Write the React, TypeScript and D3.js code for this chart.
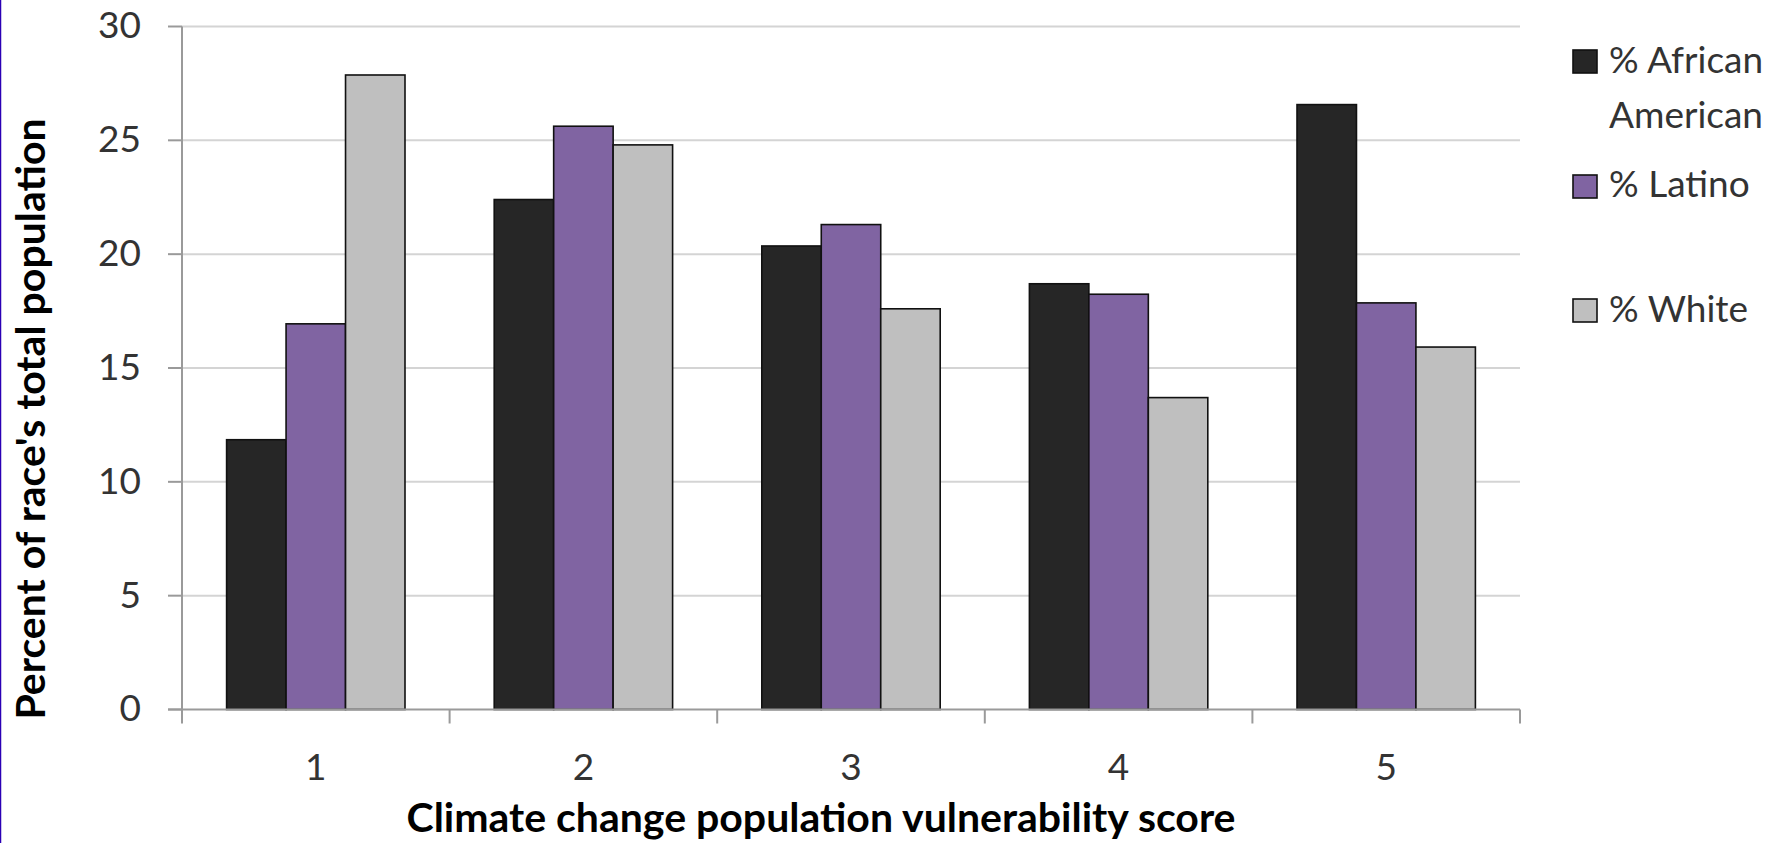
import React from "react";
import * as d3 from "d3";

const categories = ["1", "2", "3", "4", "5"];
const seriesNames = ["% African American", "% Latino", "% White"];
const africanAmerican = [11.85, 22.4, 20.36, 18.7, 26.57];
const latino = [16.94, 25.62, 21.3, 18.24, 17.86];
const white = [27.87, 24.8, 17.6, 13.7, 15.92];
const yTicks = [0, 5, 10, 15, 20, 25, 30];
const seriesColors = ["#262626", "#8064A2", "#BFBFBF"];

const W = 1788;
const H = 843;
const margin = { left: 182, right: 1520, top: 26.5, bottom: 709.5 };

export default function App() {
  const values = [africanAmerican, latino, white];

  const x = d3
    .scaleBand<string>()
    .domain(categories)
    .range([margin.left, margin.right])
    .paddingInner(0)
    .paddingOuter(0);

  // Each category holds three bars with a 150% gap (bar width = band / 4.5)
  const barW = x.bandwidth() / 4.5;
  const inner = d3
    .scaleBand<number>()
    .domain([0, 1, 2])
    .range([barW * 0.75, barW * 3.75]);

  const y = d3.scaleLinear().domain([0, 30]).range([margin.bottom, margin.top]);

  const font = "Lato, 'Open Sans', sans-serif";
  const boundaries = [...categories.map((c) => x(c)!), margin.right];

  return (
    <svg
      width={W}
      height={H}
      viewBox={`0 0 ${W} ${H}`}
      style={{ position: "absolute", left: 0, top: 0, background: "#fff" }}
    >
      <rect x={0} y={0} width={W} height={H} fill="#fff" />
      <line x1={0.5} y1={0} x2={0.5} y2={H} stroke="#2B00B5" strokeWidth={1.5} />

      {/* horizontal gridlines */}
      {yTicks
        .filter((t) => t > 0)
        .map((t) => (
          <line
            key={`g${t}`}
            x1={margin.left}
            x2={margin.right}
            y1={y(t)}
            y2={y(t)}
            stroke="#D4D4D4"
            strokeWidth={2}
          />
        ))}

      {/* bars */}
      {values.map((series, si) =>
        series.map((v, ci) => {
          const bx = x(categories[ci])! + inner(si)!;
          return (
            <rect
              key={`b${si}-${ci}`}
              x={bx}
              y={y(v)}
              width={inner.bandwidth()}
              height={y(0) - y(v)}
              fill={seriesColors[si]}
              stroke="#111"
              strokeWidth={1.6}
            />
          );
        })
      )}

      {/* y axis */}
      <line x1={margin.left} x2={margin.left} y1={margin.top} y2={margin.bottom} stroke="#9A9A9A" strokeWidth={2} />
      {yTicks.map((t) => (
        <g key={`yt${t}`}>
          <line x1={margin.left - 14} x2={margin.left} y1={y(t)} y2={y(t)} stroke="#9A9A9A" strokeWidth={2} />
          <text
            x={141}
            y={y(t) + 2.5}
            textAnchor="end"
            dominantBaseline="middle"
            fontFamily={font}
            fontSize={37}
            fill="#333"
          >
            {t}
          </text>
        </g>
      ))}

      {/* x axis */}
      <line x1={margin.left - 14} x2={margin.right} y1={margin.bottom} y2={margin.bottom} stroke="#9A9A9A" strokeWidth={2} />
      {boundaries.map((bx, i) => (
        <line key={`xt${i}`} x1={bx} x2={bx} y1={margin.bottom} y2={margin.bottom + 14} stroke="#9A9A9A" strokeWidth={2} />
      ))}
      {categories.map((c) => (
        <text
          key={`xl${c}`}
          x={x(c)! + x.bandwidth() / 2}
          y={780}
          textAnchor="middle"
          fontFamily={font}
          fontSize={37}
          fill="#333"
        >
          {c}
        </text>
      ))}

      {/* axis titles */}
      <text x={821} y={832} textAnchor="middle" fontFamily={font} fontWeight={700} fontSize={41} fill="#000">
        Climate change population vulnerability score
      </text>
      <text
        transform={`translate(45, 419) rotate(-90)`}
        textAnchor="middle"
        fontFamily={font}
        fontWeight={700}
        fontSize={41}
        fill="#000"
      >
        Percent of race's total population
      </text>

      {/* legend */}
      {[
        { lines: ["% African", "American"], sq: 50, base: 73 },
        { lines: ["% Latino"], sq: 175, base: 197 },
        { lines: ["% White"], sq: 299, base: 322 },
      ].map((item, i) => (
        <g key={`lg${i}`}>
          <rect x={1573} y={item.sq} width={24} height={23} fill={seriesColors[i]} stroke="#111" strokeWidth={1.6} />
          {item.lines.map((ln, li) => (
            <text
              key={li}
              x={1609}
              y={item.base + li * 55}
              fontFamily={font}
              fontSize={37}
              fill="#333"
            >
              {ln}
            </text>
          ))}
          <title>{seriesNames[i]}</title>
        </g>
      ))}
    </svg>
  );
}
